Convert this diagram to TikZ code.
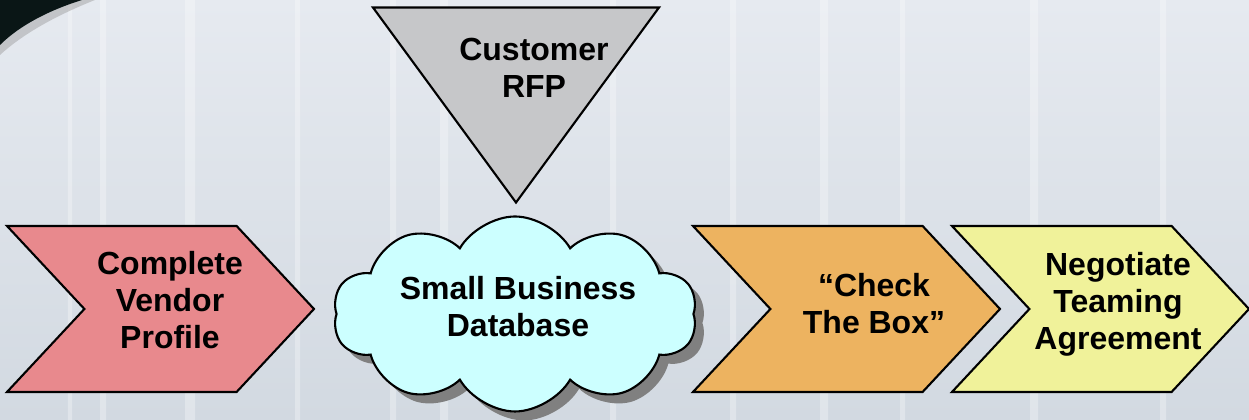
\documentclass[tikz,border=0pt]{standalone}
\usepackage{fontspec}
\setmainfont{Liberation Sans}
\usepackage{tikz}
\usetikzlibrary{shapes.symbols,shapes.geometric,shadows}
\definecolor{bgtop}{HTML}{E6EAF0}
\definecolor{bgbottom}{HTML}{D2D9E1}
\definecolor{swooshdark}{HTML}{0A1616}
\definecolor{profilepink}{HTML}{E8898D}
\definecolor{checkorange}{HTML}{EDB360}
\definecolor{teamyellow}{HTML}{F0F29A}
\definecolor{rfpgray}{HTML}{C6C7C9}
\definecolor{dbcyan}{HTML}{CCFFFF}
\definecolor{shadowgray}{HTML}{808080}
\tikzset{
  stepchevron/.style={draw, line width=0.6pt, signal, signal to=east, signal from=west, signal pointer angle=94, minimum width=3.07cm, minimum height=1.66cm, inner sep=0pt},
  steptext/.style={align=center, inner sep=0pt, font=\bfseries\fontsize{9.1}{10.5}\selectfont},
  rfptriangle/.style={draw, line width=0.6pt, fill=rfpgray, isosceles triangle, isosceles triangle stretches, shape border rotate=270, minimum width=2.86cm, minimum height=1.95cm, inner sep=0pt},
  dbcloud/.style={draw, line width=0.6pt, fill=dbcyan, cloud, cloud puffs=10, cloud puff arc=120, aspect=1.9, minimum width=3.64cm, minimum height=1.95cm, inner sep=0pt, drop shadow={shadow xshift=0.09cm, shadow yshift=-0.09cm, fill=shadowgray, opacity=1}}
}

\begin{document}
\begin{tikzpicture}
\useasboundingbox (0,0) rectangle (12.49,-4.2);
\clip (0,0) rectangle (12.49,-4.2);
% background
\shade[top color=bgtop, bottom color=bgbottom] (0,0) rectangle (12.49,-4.2);
\fill[white, opacity=0.3] (0.68,0) rectangle (0.72,-4.2) (1.0,0) rectangle (1.06,-4.2) (1.85,0) rectangle (1.95,-4.2) (2.95,0) rectangle (3.0,-4.2) (3.9,0) rectangle (3.96,-4.2) (4.4,0) rectangle (4.48,-4.2) (6.1,0) rectangle (6.16,-4.2) (7.3,0) rectangle (7.36,-4.2) (8.2,0) rectangle (8.28,-4.2) (9.0,0) rectangle (9.05,-4.2) (10.3,0) rectangle (10.38,-4.2) (11.6,0) rectangle (11.66,-4.2);
\fill[black!40, opacity=0.45] (0,0) -- (0.95,0) .. controls (0.6,-0.14) and (0.25,-0.32) .. (0,-0.55) -- cycle;
\fill[swooshdark] (0,0) -- (0.82,0) .. controls (0.5,-0.1) and (0.2,-0.25) .. (0,-0.45) -- cycle;

% shapes
\node[rfptriangle] (rfp) at (5.16,-0.80) {};
\node[stepchevron, fill=profilepink] (profile) at (1.605,-3.09) {};
\node[dbcloud] (database) at (5.15,-3.14) {};
\node[stepchevron, fill=checkorange] (checkbox) at (8.465,-3.09) {};
\node[stepchevron, fill=teamyellow, minimum width=2.97cm] (teaming) at (11.005,-3.09) {};

% texts
\node[steptext] (rfpText) at (5.34,-0.68) {Customer\\RFP};
\node[steptext] (profileText) at (1.70,-3.0) {Complete\\Vendor\\Profile};
\node[steptext] (databaseText) at (5.18,-3.07) {Small Business\\Database};
\node[steptext] (checkboxText) at (8.74,-3.04) {“Check\\The Box”};
\node[steptext] (teamingText) at (11.18,-3.04) {Negotiate\\Teaming\\Agreement};
\end{tikzpicture}
\end{document}
